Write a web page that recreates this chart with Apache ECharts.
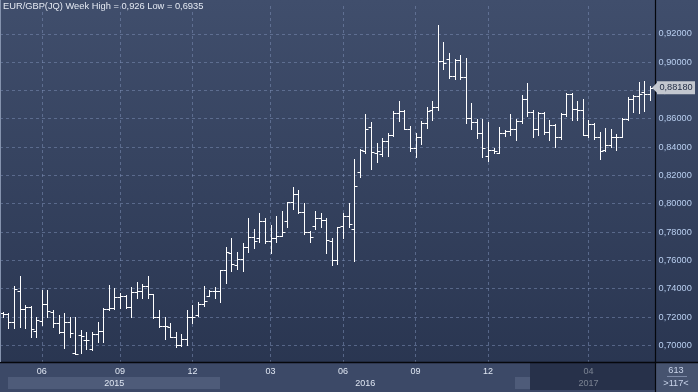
<!DOCTYPE html>
<html><head><meta charset="utf-8">
<script src="https://cdn.jsdelivr.net/npm/echarts@6/dist/echarts.min.js"></script>
<style>html,body{margin:0;padding:0;background:#2c3857;overflow:hidden}#c{width:698px;height:392px}</style>
</head><body><div id="c"></div>
<script>
// Weekly OHLC of EUR/GBP
const open = [0.7225,0.7219,0.7167,0.7384,0.7254,0.7273,0.7103,0.7174,0.7290,0.7237,
0.7155,0.7094,0.7167,0.6944,0.7073,0.7040,0.6975,0.7080,0.7103,0.7256,
0.7261,0.7343,0.7350,0.7273,0.7374,0.7386,0.7420,0.7360,0.7200,0.7139,
0.7132,0.7061,0.7000,0.7042,0.7202,0.7215,0.7292,0.7348,0.7384,0.7384,
0.7530,0.7650,0.7567,0.7607,0.7692,0.7764,0.7760,0.7880,0.7737,0.7756,
0.7772,0.7880,0.8010,0.8069,0.7943,0.7802,0.7842,0.7901,0.7885,0.7739,
0.7602,0.7840,0.7913,0.7819,0.8226,0.8370,0.8540,0.8360,0.8350,0.8445,
0.8485,0.8640,0.8657,0.8525,0.8391,0.8473,0.8568,0.8660,0.8685,0.9006,
0.9020,0.8902,0.9016,0.8895,0.8602,0.8579,0.8497,0.8340,0.8379,0.8360,
0.8501,0.8510,0.8530,0.8584,0.8737,0.8650,0.8525,0.8638,0.8508,0.8556,
0.8473,0.8634,0.8775,0.8667,0.8660,0.8485,0.8560,0.8473,0.8380,0.8414,
0.8470,0.8473,0.8596,0.8737,0.8761,0.8791,0.8775];
const high = [0.7235,0.7230,0.7420,0.7492,0.7285,0.7280,0.7202,0.7391,0.7391,0.7249,
0.7214,0.7225,0.7202,0.7202,0.7108,0.7096,0.7096,0.7167,0.7261,0.7426,
0.7403,0.7367,0.7355,0.7414,0.7445,0.7430,0.7492,0.7365,0.7249,0.7198,
0.7155,0.7096,0.7080,0.7249,0.7285,0.7308,0.7419,0.7390,0.7414,0.7532,
0.7696,0.7756,0.7661,0.7725,0.7897,0.7819,0.7937,0.7897,0.7850,0.7913,
0.7951,0.8014,0.8116,0.8097,0.8003,0.7810,0.7951,0.7932,0.7897,0.7756,
0.7838,0.7932,0.8005,0.8314,0.8384,0.8634,0.8579,0.8431,0.8462,0.8501,
0.8657,0.8725,0.8665,0.8549,0.8497,0.8584,0.8681,0.8723,0.9262,0.9144,
0.9062,0.9024,0.9050,0.9027,0.8713,0.8600,0.8600,0.8579,0.8391,0.8541,
0.8520,0.8631,0.8596,0.8768,0.8850,0.8665,0.8646,0.8646,0.8591,0.8565,
0.8638,0.8784,0.8784,0.8727,0.8737,0.8591,0.8570,0.8508,0.8532,0.8525,
0.8490,0.8603,0.8751,0.8768,0.8862,0.8866,0.8831];
const low = [0.7200,0.7120,0.7125,0.7132,0.7124,0.7056,0.7056,0.7143,0.7202,0.7132,
0.7085,0.6980,0.7061,0.6936,0.6944,0.6972,0.6965,0.7026,0.7026,0.7250,
0.7256,0.7261,0.7261,0.7198,0.7332,0.7336,0.7336,0.7195,0.7132,0.7042,
0.7061,0.6986,0.6995,0.7002,0.7160,0.7210,0.7278,0.7345,0.7332,0.7308,
0.7442,0.7527,0.7537,0.7527,0.7661,0.7685,0.7732,0.7720,0.7650,0.7732,
0.7772,0.7833,0.7960,0.7932,0.7785,0.7732,0.7819,0.7833,0.7650,0.7567,
0.7574,0.7756,0.7838,0.7598,0.8186,0.8356,0.8245,0.8297,0.8339,0.8339,
0.8480,0.8586,0.8525,0.8374,0.8332,0.8420,0.8532,0.8591,0.8662,0.8950,
0.8886,0.8879,0.8880,0.8572,0.8530,0.8462,0.8332,0.8304,0.8355,0.8355,
0.8480,0.8483,0.8450,0.8570,0.8620,0.8473,0.8485,0.8490,0.8450,0.8402,
0.8460,0.8620,0.8591,0.8591,0.8485,0.8470,0.8455,0.8314,0.8375,0.8400,
0.8379,0.8470,0.8591,0.8650,0.8643,0.8657,0.8732];
const close = [0.7219,0.7167,0.7396,0.7254,0.7273,0.7115,0.7179,0.7290,0.7242,0.7155,
0.7096,0.7167,0.7085,0.6940,0.7068,0.7038,0.7080,0.7103,0.7256,0.7261,
0.7343,0.7350,0.7273,0.7374,0.7386,0.7420,0.7360,0.7200,0.7139,0.7139,
0.7061,0.7000,0.7042,0.7202,0.7198,0.7290,0.7311,0.7384,0.7384,0.7530,
0.7657,0.7574,0.7607,0.7692,0.7764,0.7740,0.7880,0.7737,0.7756,0.7772,
0.7802,0.8010,0.8069,0.7943,0.7802,0.7767,0.7897,0.7885,0.7744,0.7602,
0.7838,0.7913,0.7855,0.8127,0.8379,0.8525,0.8363,0.8374,0.8445,0.8485,
0.8640,0.8657,0.8525,0.8391,0.8473,0.8568,0.8657,0.8685,0.9006,0.8996,
0.8902,0.9016,0.8895,0.8602,0.8579,0.8497,0.8391,0.8379,0.8370,0.8501,
0.8510,0.8530,0.8584,0.8737,0.8650,0.8525,0.8638,0.8508,0.8556,0.8473,
0.8634,0.8775,0.8667,0.8660,0.8485,0.8565,0.8473,0.8374,0.8414,0.8470,
0.8473,0.8596,0.8737,0.8761,0.8775,0.8775,0.8818];
const monthTickIdx = [7,21,34,48,61,74,87,105];
const monthLabels = ['06','09','12','03','06','09','12','04'];
const yearTickIdx = [20,65,105];
const yearLabels = ['2015','2016','2017'];
const titleText = 'EUR/GBP(JQ) Week High = 0,926 Low = 0,6935';
const countText = '613';
const visibleText = '>117<';

const FONT = "'Liberation Sans', Arial, sans-serif";
const categories = open.map((_, i) => 'W' + (i + 1));
const seriesData = categories.map((c, i) => [i, open[i], high[i], low[i], close[i]]);
const fmt = v => v.toFixed(5).replace('.', ',');

const chart = echarts.init(document.getElementById('c'), null, {renderer: 'canvas'});
const gridLine = {color: 'rgba(122,140,178,0.55)', width: 1, type: [3, 3]};

function renderItem(params, api) {
  const i = api.value(0);
  const x = Math.round(api.coord([i, api.value(1)])[0]) + 0.5;
  const yo = Math.round(api.coord([i, api.value(1)])[1]) + 0.5;
  const yh = Math.round(api.coord([i, api.value(2)])[1]);
  const yl = Math.round(api.coord([i, api.value(3)])[1]) + 1;
  const yc = Math.round(api.coord([i, api.value(4)])[1]) + 0.5;
  const st = {stroke: '#ffffff', lineWidth: 1};
  return {type: 'group', children: [
    {type: 'line', shape: {x1: x, y1: yh, x2: x, y2: yl}, style: st},
    {type: 'line', shape: {x1: x - 3, y1: yo, x2: x, y2: yo}, style: st},
    {type: 'line', shape: {x1: x, y1: yc, x2: x + 3, y2: yc}, style: st}
  ]};
}

chart.setOption({
  animation: false,
  backgroundColor: new echarts.graphic.LinearGradient(0, 0, 0, 1, [
    {offset: 0, color: '#404e6c'}, {offset: 1, color: '#28344f'}]),
  textStyle: {fontFamily: FONT},
  title: {text: titleText, left: 3, top: 2, padding: 0,
    textStyle: {color: '#e4e9f2', fontSize: 9.3, fontWeight: 'normal', fontFamily: FONT}},
  grid: {left: 0, right: 45.4, top: 6, bottom: 30, containLabel: false},
  xAxis: [{
    type: 'category', data: categories, boundaryGap: true,
    axisLine: {show: false}, axisTick: {show: false},
    axisLabel: {
      interval: (idx) => monthTickIdx.includes(idx),
      formatter: (v, idx) => monthLabels[monthTickIdx.indexOf(idx)] || '',
      color: '#dfe6f2', fontSize: 9, margin: 5, fontFamily: FONT
    },
    splitLine: {show: true, alignWithLabel: true, interval: (idx) => monthTickIdx.includes(idx), lineStyle: gridLine}
  }, {
    type: 'category', data: categories, boundaryGap: true, position: 'bottom', offset: 12,
    axisLine: {show: false}, axisTick: {show: false}, splitLine: {show: false},
    axisLabel: {
      interval: (idx) => yearTickIdx.includes(idx),
      formatter: (v, idx) => yearLabels[yearTickIdx.indexOf(idx)] || '',
      color: '#dfe6f2', fontSize: 9, margin: 5, fontFamily: FONT
    }
  }],
  yAxis: {
    type: 'value', position: 'right', min: 0.688206, max: 0.939619,
    splitNumber: 12, minInterval: 0.02, maxInterval: 0.02, scale: true,
    axisLine: {show: false}, axisTick: {show: false},
    axisLabel: {color: '#b9cff0', fontSize: 9.2, margin: 6, formatter: fmt, fontFamily: FONT,
      showMinLabel: false, showMaxLabel: false},
    splitLine: {show: true, lineStyle: gridLine, showMinLine: false, showMaxLine: false}
  },
  series: [{type: 'custom', renderItem: renderItem, data: seriesData, clip: true,
    encode: {x: 0, y: [1, 2, 3, 4]}, z: 5}]
});

const yLast = chart.convertToPixel({yAxisIndex: 0}, close[close.length - 1]);
const smallFont = "9.2px 'Liberation Sans', Arial";
chart.setOption({graphic: [
  {type: 'rect', z: -1, shape: {x: 0, y: 363, width: 655, height: 29}, style: {fill: '#3c4967'}},
  {type: 'rect', z: -1, shape: {x: 8, y: 377, width: 212, height: 12}, style: {fill: '#4e5b79'}},
  {type: 'rect', z: -1, shape: {x: 515, y: 377, width: 15, height: 12}, style: {fill: '#4e5b79'}},
  {type: 'rect', z: 50, shape: {x: 530, y: 363, width: 125, height: 27}, style: {fill: 'rgba(18,26,46,0.5)'}},
  {type: 'rect', z: 50, shape: {x: 656, y: 363, width: 42, height: 29}, style: {fill: '#46536f'}},
  {type: 'text', z: 51, x: 676, y: 370.5, style: {text: countText, fill: '#c9d4ea', font: smallFont, align: 'center', verticalAlign: 'middle'}},
  {type: 'line', z: 51, shape: {x1: 667, y1: 376.5, x2: 687, y2: 376.5}, style: {stroke: '#7c89a6', lineWidth: 1}},
  {type: 'text', z: 51, x: 676, y: 383.5, style: {text: visibleText, fill: '#c9d4ea', font: smallFont, align: 'center', verticalAlign: 'middle'}},
  {type: 'line', z: 52, shape: {x1: 0, y1: 362.5, x2: 698, y2: 362.5}, style: {stroke: '#05070c', lineWidth: 1.5}},
  {type: 'line', z: 52, shape: {x1: 655.5, y1: 0, x2: 655.5, y2: 392}, style: {stroke: '#05070c', lineWidth: 1.2}},
  {type: 'line', z: 52, shape: {x1: 0.5, y1: 0, x2: 0.5, y2: 362}, style: {stroke: '#8593ae', lineWidth: 1}},
  {type: 'polygon', z: 60, shape: {points: [[652, yLast], [658, yLast - 6], [658, yLast + 6]]}, style: {fill: '#c3c7cf'}},
  {type: 'rect', z: 60, shape: {x: 657, y: yLast - 6.5, width: 38, height: 13}, style: {fill: '#c3c7cf'}},
  {type: 'text', z: 61, x: 676, y: yLast, style: {text: fmt(close[close.length - 1]), fill: '#1d2840', font: smallFont, align: 'center', verticalAlign: 'middle'}}
]});
</script></body></html>
